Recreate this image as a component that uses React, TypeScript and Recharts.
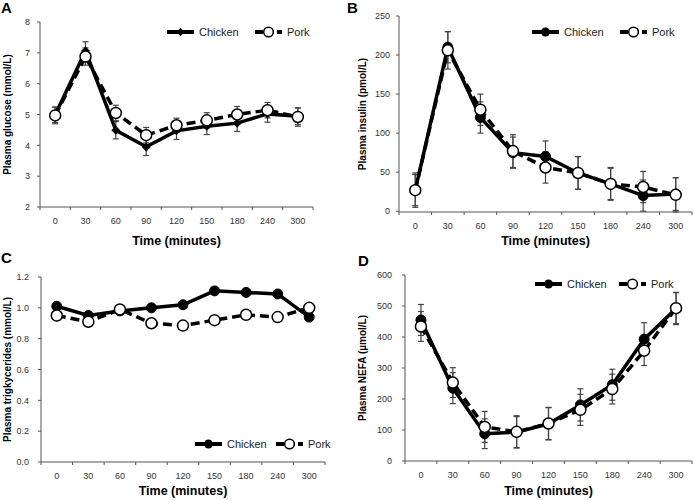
import React from "react";
import { LineChart, Line, XAxis, YAxis, ErrorBar, Legend } from "recharts";

const times = ["0", "30", "60", "90", "120", "150", "180", "240", "300"];

const glucoseChicken = [4.99, 7.06, 4.49, 3.95, 4.47, 4.62, 4.72, 5.02, 4.94];
const glucosePork = [4.97, 6.88, 5.05, 4.33, 4.65, 4.81, 5.0, 5.14, 4.92];
const glucoseChickenErr = [0.25, 0.3, 0.28, 0.28, 0.28, 0.27, 0.27, 0.27, 0.27];
const glucosePorkErr = [0.27, 0.28, 0.25, 0.25, 0.23, 0.25, 0.26, 0.25, 0.3];

const insulinChicken = [27, 210, 120, 75, 70, 49, 35, 20, 22];
const insulinPork = [27, 206, 130, 77, 56, 49, 35, 31, 21];
const insulinChickenErr = [20, 20, 20, 20, 20, 21, 20, 20, 21];
const insulinPorkErr = [22, 24, 20, 21, 20, 21, 21, 20, 22];

const tgChicken = [1.01, 0.95, 0.98, 1.0, 1.02, 1.11, 1.1, 1.09, 0.94];
const tgPork = [0.95, 0.91, 0.99, 0.9, 0.885, 0.92, 0.955, 0.94, 1.0];

const nefaChicken = [455, 235, 88, 93, 120, 181, 246, 393, 492];
const nefaPork = [434, 253, 110, 94, 121, 165, 232, 356, 493];
const nefaChickenErr = [50, 50, 48, 50, 52, 52, 50, 53, 52];
const nefaPorkErr = [48, 48, 50, 52, 52, 50, 48, 48, 50];

const glucoseTicks = [2, 3, 4, 5, 6, 7, 8];
const insulinTicks = [0, 50, 100, 150, 200, 250];
const tgTicks = [0, 0.2, 0.4, 0.6, 0.8, 1.0, 1.2];
const nefaTicks = [0, 100, 200, 300, 400, 500, 600];

const FONT = "'Liberation Sans', Arial, Helvetica, sans-serif";
const AXIS = "#555";
const W = 347;
const H = 250;

// tick positions on the time axis: label at each index, tick mark between them
const xTicks: number[] = [];
for (let k = 0; k <= times.length; k++) {
  xTicks.push(k - 0.5);
  if (k < times.length) xTicks.push(k);
}

function buildRows(chicken: number[], pork: number[], cErr?: number[], pErr?: number[]) {
  return times.map((t, i) => ({
    i,
    time: t,
    chicken: chicken[i],
    pork: pork[i],
    chickenErr: cErr ? cErr[i] : 0,
    porkErr: pErr ? pErr[i] : 0,
  }));
}

function XTick(props: any) {
  const { x, y, payload } = props;
  const v = payload.value;
  if (Number.isInteger(v)) {
    return (
      <text x={x} y={y + 17} textAnchor="middle" fontSize={9} fill="#333" fontFamily={FONT}>
        {times[v]}
      </text>
    );
  }
  return <line x1={x} x2={x} y1={y} y2={y + 3} stroke={AXIS} strokeWidth={1} />;
}

function Diamond(props: any) {
  const { cx, cy, index } = props;
  if (cx == null || cy == null) return <g key={index} />;
  const r = 4.5;
  return (
    <polygon
      key={index}
      points={`${cx},${cy - r} ${cx + r},${cy} ${cx},${cy + r} ${cx - r},${cy}`}
      fill="#000"
    />
  );
}

function LegendIcon({ dashed, marker }: { dashed?: boolean; marker: "diamond" | "filled" | "open" }) {
  return (
    <svg width={29} height={12} style={{ display: "block", flex: "none" }}>
      <line
        x1={1}
        x2={28}
        y1={6}
        y2={6}
        stroke="#000"
        strokeWidth={4}
        strokeDasharray={dashed ? "8 3" : undefined}
      />
      {marker === "diamond" && <polygon points="14.5,2 18.5,6 14.5,10 10.5,6" fill="#000" />}
      {marker === "filled" && <circle cx={14.5} cy={6} r={4.5} fill="#000" />}
      {marker === "open" && <circle cx={14.5} cy={6} r={4.8} fill="#fff" stroke="#000" strokeWidth={1.5} />}
    </svg>
  );
}

function makeLegend(chickenMarker: "diamond" | "filled", porkOffset: number) {
  return () => (
    <div style={{ position: "relative", width: porkOffset + 60, height: 12, fontFamily: FONT, fontSize: 11, color: "#222" }}>
      <div style={{ position: "absolute", left: 0, top: 0, display: "flex", alignItems: "center", height: 12 }}>
        <LegendIcon marker={chickenMarker} />
        <span style={{ marginLeft: 4, lineHeight: "12px" }}>Chicken</span>
      </div>
      <div style={{ position: "absolute", left: porkOffset, top: 0, display: "flex", alignItems: "center", height: 12 }}>
        <LegendIcon dashed marker="open" />
        <span style={{ marginLeft: 4, lineHeight: "12px" }}>Pork</span>
      </div>
    </div>
  );
}

interface PanelProps {
  letter: string;
  letterX: number;
  letterY: number;
  rows: any[];
  yLabel: string;
  domain: [number, number];
  yTicks: number[];
  yFormat?: (v: number) => string;
  plot: { left: number; top: number; right: number; bottom: number };
  yLabelX: number;
  yTickMargin: number;
  legendX: number;
  legendY: number;
  porkOffset: number;
  diamond?: boolean;
  errors?: boolean;
}

function Panel(p: PanelProps) {
  const { plot } = p;
  return (
    <div style={{ position: "relative", width: W, height: H }}>
      <div
        style={{
          position: "absolute",
          left: p.letterX,
          top: p.letterY - 13,
          fontFamily: FONT,
          fontWeight: "bold",
          fontSize: 15,
          lineHeight: "15px",
          color: "#000",
        }}
      >
        {p.letter}
      </div>
      <LineChart
        width={W}
        height={H}
        data={p.rows}
        margin={{ top: plot.top, right: W - plot.right, bottom: 0, left: 0 }}
      >
        <XAxis
          dataKey="i"
          type="number"
          domain={[-0.5, times.length - 0.5]}
          ticks={xTicks}
          interval={0}
          height={H - plot.bottom}
          tickLine={false}
          tickSize={0}
          tickMargin={0}
          axisLine={{ stroke: AXIS, strokeWidth: 1 }}
          tick={XTick}
          label={{
            value: "Time (minutes)",
            position: "insideBottom",
            offset: 5,
            style: { fontFamily: FONT, fontWeight: "bold", fontSize: 12.5, fill: "#000" },
          }}
        />
        <YAxis
          type="number"
          width={plot.left}
          domain={p.domain}
          ticks={p.yTicks}
          interval={0}
          tickFormatter={p.yFormat}
          tickSize={3}
          tickMargin={p.yTickMargin}
          tickLine={{ stroke: AXIS }}
          axisLine={{ stroke: AXIS, strokeWidth: 1 }}
          tick={{ fontSize: 9, fill: "#333", fontFamily: FONT }}
          label={{
            value: p.yLabel,
            angle: -90,
            position: "insideLeft",
            offset: p.yLabelX,
            style: { textAnchor: "middle", fontFamily: FONT, fontWeight: "bold", fontSize: 10, fill: "#000" },
          }}
        />
        <Legend
          layout="vertical"
          align="center"
          verticalAlign="middle"
          wrapperStyle={{ left: p.legendX, top: p.legendY, width: "auto" }}
          content={makeLegend(p.diamond ? "diamond" : "filled", p.porkOffset)}
        />
        <Line
          dataKey="chicken"
          stroke="#000"
          strokeWidth={3.5}
          isAnimationActive={false}
          dot={p.diamond ? Diamond : { r: 5, fill: "#000", stroke: "#000", strokeWidth: 1 }}
          activeDot={false}
        >
          {p.errors && <ErrorBar dataKey="chickenErr" width={3} stroke="#444" strokeWidth={1.2} direction="y" />}
        </Line>
        <Line
          dataKey="pork"
          stroke="#000"
          strokeWidth={3.5}
          strokeDasharray="9 5"
          isAnimationActive={false}
          dot={{ r: 5.5, fill: "#fff", stroke: "#000", strokeWidth: 1.5, strokeDasharray: "" }}
          activeDot={false}
        >
          {p.errors && <ErrorBar dataKey="porkErr" width={3} stroke="#444" strokeWidth={1.2} direction="y" />}
        </Line>
      </LineChart>
    </div>
  );
}

export default function App() {
  return (
    <div
      style={{
        position: "absolute",
        left: 0,
        top: 0,
        width: 694,
        height: 500,
        background: "#fff",
        display: "grid",
        gridTemplateColumns: `${W}px ${W}px`,
        gridTemplateRows: `${H}px ${H}px`,
      }}
    >
      <Panel
        letter="A"
        letterX={1}
        letterY={13}
        rows={buildRows(glucoseChicken, glucosePork, glucoseChickenErr, glucosePorkErr)}
        yLabel="Plasma glucose (mmol/L)"
        domain={[2, 8]}
        yTicks={glucoseTicks}
        plot={{ left: 40, top: 22, right: 313, bottom: 207 }}
        yLabelX={7}
        yTickMargin={7}
        legendX={166}
        legendY={26}
        porkOffset={88}
        diamond
        errors
      />
      <Panel
        letter="B"
        letterX={0}
        letterY={13}
        rows={buildRows(insulinChicken, insulinPork, insulinChickenErr, insulinPorkErr)}
        yLabel="Plasma insulin (pmol/L)"
        domain={[0, 250]}
        yTicks={insulinTicks}
        plot={{ left: 52, top: 16, right: 345, bottom: 212 }}
        yLabelX={15}
        yTickMargin={6}
        legendX={184}
        legendY={26}
        porkOffset={88}
        errors
      />
      <Panel
        letter="C"
        letterX={1}
        letterY={13}
        rows={buildRows(tgChicken, tgPork)}
        yLabel="Plasma trigkycerides (mmol/L)"
        domain={[0, 1.2]}
        yTicks={tgTicks}
        yFormat={(v: number) => v.toFixed(1)}
        plot={{ left: 41, top: 27, right: 325, bottom: 212 }}
        yLabelX={7}
        yTickMargin={9}
        legendX={194}
        legendY={188}
        porkOffset={81}
      />
      <Panel
        letter="D"
        letterX={11}
        letterY={16}
        rows={buildRows(nefaChicken, nefaPork, nefaChickenErr, nefaPorkErr)}
        yLabel="Plasma NEFA (µmol/L)"
        domain={[0, 600]}
        yTicks={nefaTicks}
        plot={{ left: 58, top: 25, right: 345, bottom: 211 }}
        yLabelX={15}
        yTickMargin={10}
        legendX={187}
        legendY={28}
        porkOffset={84}
        errors
      />
    </div>
  );
}
